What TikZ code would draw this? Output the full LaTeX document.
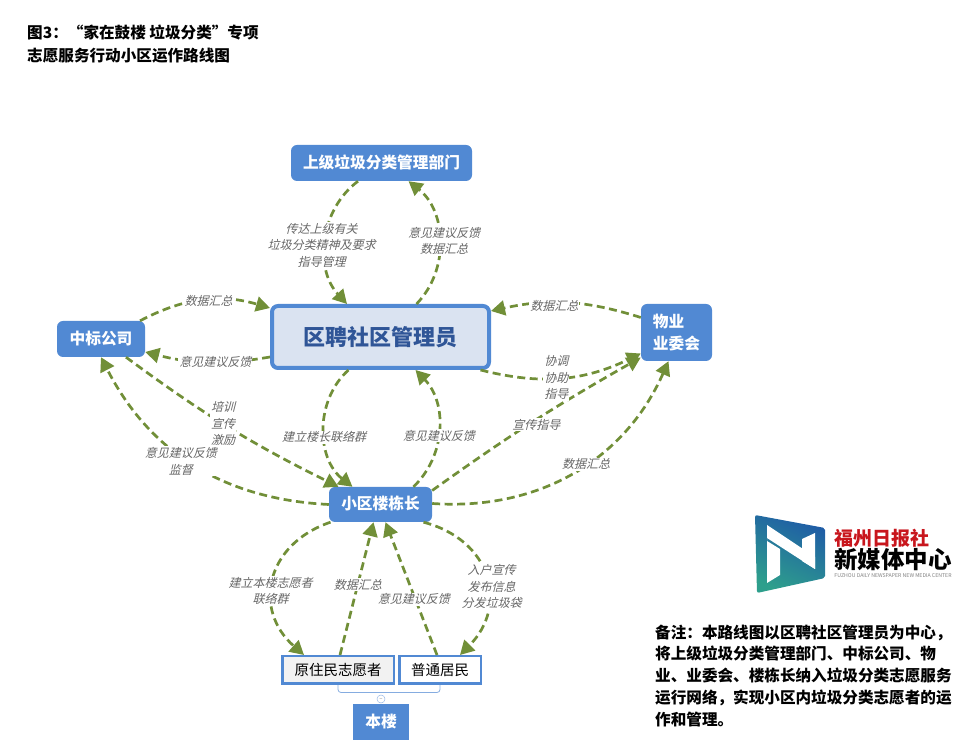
\documentclass[tikz,border=0pt]{standalone}
\usepackage{fontspec}
\setmainfont{Noto Sans CJK SC}
\newfontfamily\tagfont[FakeSlant=0.25]{Noto Sans CJK SC}
\usetikzlibrary{arrows.meta}
\definecolor{boxblue}{HTML}{5189D3}
\definecolor{mainfill}{HTML}{DAE3F1}
\definecolor{maintext}{HTML}{2F5597}
\definecolor{flowgreen}{HTML}{718F38}
\definecolor{taggray}{HTML}{666666}
\definecolor{logored}{HTML}{C8161D}
\definecolor{logotop}{HTML}{1F5CA6}
\definecolor{logobot}{HTML}{2E9F8C}
\tikzset{
  box/.style={draw=none,fill=boxblue,text=white,font=\fontsize{15.7}{22}\selectfont\bfseries,rounded corners=6pt,inner sep=0pt,text height=12pt,text depth=1pt},
  leaf/.style={draw=boxblue,line width=2.5pt,text=black,font=\fontsize{14.5}{18}\selectfont,inner sep=0pt,minimum height=27.5pt},
  flow/.style={draw=flowgreen,line width=2.7pt,dash pattern=on 8pt off 4.5pt,-{Triangle[length=14pt,width=15pt]}},
  tag/.style={fill=white,inner sep=1pt,text=taggray,align=center,font=\fontsize{12}{16.5}\selectfont\tagfont},
  note/.style={anchor=north west,align=left,inner sep=0pt,font=\fontsize{15.6}{21.8}\selectfont\bfseries}
}
\begin{document}
\begin{tikzpicture}[x=1pt,y=1pt]
  \useasboundingbox (0,0) rectangle (980,755);
  \node[note,font=\fontsize{15.6}{23}\selectfont\bfseries] (title) at (27,730) {图3：“家在鼓楼 垃圾分类”专项\\志愿服务行动小区运作路线图};

  \node[box,minimum width=181pt,minimum height=36pt] (top) at (381.5,592) {上级垃圾分类管理部门};
  \node[box,draw=boxblue,line width=4pt,fill=mainfill,text=maintext,minimum width=217pt,minimum height=62pt,font=\fontsize{22}{26}\selectfont\bfseries,text height=18pt] (main) at (380.5,418) {区聘社区管理员};
  \node[box,minimum width=88pt,minimum height=36pt] (zb) at (101,416) {中标公司};
  \node[box,minimum width=71pt,minimum height=57pt,align=left,text height=,text depth=] (wy) at (676.5,422.5) {物业\\业委会};
  \node[box,minimum width=103pt,minimum height=35pt] (ld) at (380.5,250.5) {小区楼栋长};
  \node[leaf,fill=black!5,minimum width=111.5pt] (yz) at (338,85) {原住民志愿者};
  \node[leaf,fill=white,minimum width=81.5pt] (pt) at (440,85) {普通居民};
  \node[box,rounded corners=0pt,minimum width=56pt,minimum height=36pt] (bl) at (381,33) {本楼};
  \draw[boxblue!70,line width=0.8pt,rounded corners=3pt] (yz.south) -- ++(0,-7.5) -| (pt.south);
  \node[draw=boxblue!60,fill=white,circle,line width=0.5pt,minimum size=8pt,inner sep=0pt,text=gray,font=\fontsize{6}{6}\selectfont,text height=3pt,text depth=0pt] (fold) at (381,56) {–};

  \draw[flow] ([xshift=-23.5pt]top.south) to[bend right=48] node[midway,tag,xshift=-4pt,yshift=-5pt] {传达上级有关\\垃圾分类精神及要求\\指导管理} ([xshift=-33.5pt]main.north);
  \draw[flow] ([xshift=36pt]main.north) to[bend right=48] node[midway,tag,xshift=5pt] {意见建议反馈\\数据汇总} ([xshift=27pt]top.south);
  \draw[flow] ([xshift=39pt]zb.north) to[bend left=22] node[midway,tag,xshift=5pt,yshift=-1pt] {数据汇总} ([yshift=29pt]main.west);
  \draw[flow] ([yshift=-20pt]main.west) to[bend left=12] node[midway,tag,xshift=8pt] {意见建议反馈} ([yshift=-13pt]zb.east);
  \draw[flow] (ld.west) to[bend left=30] node[pos=.52,tag,xshift=-8pt] {意见建议反馈\\监督} (zb.south);
  \draw[flow] ([xshift=25pt]zb.south) to[bend right=5] node[pos=.47,tag] {培训\\宣传\\激励} ([xshift=-42pt]ld.north);
  \draw[flow] ([xshift=-32pt]main.south) to[bend right=50] node[midway,tag,yshift=-8pt] {建立楼长联络群} ([xshift=-28pt]ld.north);
  \draw[flow] ([xshift=33pt]ld.north) to[bend right=45] node[midway,tag,yshift=-7pt] {意见建议反馈} ([xshift=35pt]main.south);
  \draw[flow] ([yshift=14pt]ld.east) to[bend left=3] node[pos=.5,tag,xshift=2pt,yshift=-4pt] {宣传指导} ([yshift=-25pt]wy.west);
  \draw[flow] ([yshift=1pt]ld.east) to[bend right=35] node[pos=.55,tag] {数据汇总} ([xshift=-8pt]wy.south);
  \draw[flow] ([xshift=100pt]main.south) to[bend right=20] node[midway,tag,xshift=-6pt] {协调\\协助\\指导} ([yshift=-21pt]wy.west);
  \draw[flow] ([yshift=15pt]wy.west) to[bend right=15] node[midway,tag,xshift=-12pt,yshift=-3pt] {数据汇总} ([yshift=26pt]main.east);
  \draw[flow] ([xshift=-50pt]ld.south) to[bend right=60,looseness=1.3] node[midway,tag,xshift=-3pt,yshift=-11pt] {建立本楼志愿者\\联络群} ([xshift=-34pt]yz.north);
  \draw[flow] ([xshift=2pt]yz.north) -- node[midway,tag,xshift=1pt,yshift=4pt] {数据汇总} ([xshift=-7pt]ld.south);
  \draw[flow] ([xshift=-3pt]pt.north) -- node[pos=.45,tag,yshift=-4pt] {意见建议反馈} ([xshift=5pt]ld.south);
  \draw[flow] ([xshift=43pt]ld.south) to[bend left=60,looseness=1.3] node[midway,tag,xshift=6pt,yshift=-10pt] {入户宣传\\发布信息\\分发垃圾袋} ([xshift=20pt]pt.north);

  % logo
  \shade[top color=logotop,bottom color=logobot,shading angle=-25,rounded corners=2pt] (755,240) -- (825,227) -- (825,177) -- (757,162) -- cycle;
  \fill[white] (767,230) -- (767,214) -- (780,206) -- (780,180) -- (767,172) -- cycle;
  \fill[white] (767,230) -- (815,198) -- (815,186) -- (767,217) -- cycle;
  \fill[white] (802,216) -- (815,222) -- (815,186) -- (802,194) -- cycle;
  \node[inner sep=0pt,text=logored,font=\fontsize{19}{20}\selectfont\bfseries] (paper) at (881.5,217) {福州日报社};
  \node[inner sep=0pt,font=\fontsize{23.5}{24}\selectfont\bfseries] (media) at (893,195) {新媒体中心};
  \node[inner sep=0pt,text=gray,font=\fontsize{5.2}{6}\selectfont] (en) at (893,179) {FUZHOU DAILY NEWSPAPER NEW MEDIA CENTER};

  \node[note] (remark) at (655,130.5) {备注：本路线图以区聘社区管理员为中心，\\将上级垃圾分类管理部门、中标公司、物\\业、业委会、楼栋长纳入垃圾分类志愿服务\\运行网络，实现小区内垃圾分类志愿者的运\\作和管理。};
\end{tikzpicture}
\end{document}
